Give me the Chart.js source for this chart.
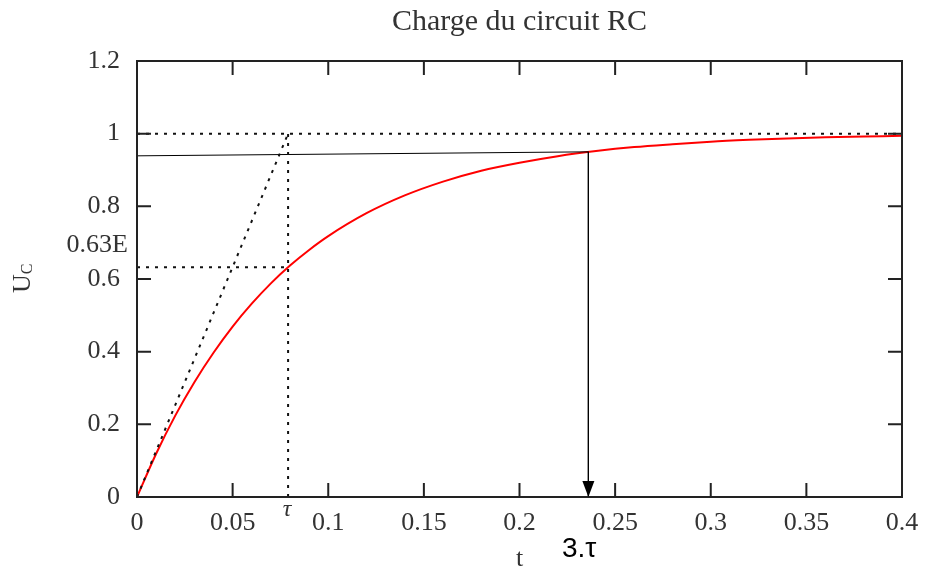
<!DOCTYPE html>
<html lang="fr">
  <head>
    <meta charset="utf-8">
    <script src="https://cdn.jsdelivr.net/npm/chart.js@4.4.1/dist/chart.umd.min.js"></script>
    <style>
      html, body { margin: 0; padding: 0; background: #fff; }
    </style>
  </head>
  <body>
    <canvas id="rcChart" width="927" height="568"></canvas>
    <script>

// values
let timeValues = [0, 0.01, 0.02, 0.03, 0.04, 0.05, 0.06, 0.07, 0.08, 0.09, 0.10,
                  0.12, 0.14, 0.16, 0.18, 0.20, 0.22, 0.24, 0.26, 0.28, 0.30,
                  0.32, 0.34, 0.36, 0.38, 0.40];
let ucValues = [0, 0.119, 0.224, 0.316, 0.397, 0.469, 0.532, 0.588, 0.637, 0.680, 0.718,
                0.781, 0.830, 0.868, 0.898, 0.920, 0.938, 0.952, 0.963, 0.971, 0.978,
                0.983, 0.987, 0.990, 0.992, 0.994];

let xTickLabels = ['0', '0.05', '0.1', '0.15', '0.2', '0.25', '0.3', '0.35', '0.4'];
let yTickLabels = ['0', '0.2', '0.4', '0.6', '0.8', '1', '1.2'];

let tau = 0.079;
let threeTau = 0.236;
let finalValue = 1;
let level63 = 0.632;
let ucAtThreeTau = 0.950;
let readLineStart = 0.939;

const serif = '"Liberation Serif", "DejaVu Serif", serif';

function pts(xs, ys) {
    return xs.map((x, i) => ({ x: x, y: ys[i] }));
}

const dotted = { borderColor: '#111', borderWidth: 2, borderDash: [3, 6], pointRadius: 0, fill: false };

// frame, inward ticks, texts and the arrow head
const gnuplotLook = {
    id: 'gnuplotLook',
    afterDatasetsDraw(chart) {
        const ctx = chart.ctx;
        const a = chart.chartArea;
        const xs = chart.scales.x, ys = chart.scales.y;
        ctx.save();
        ctx.strokeStyle = '#222';
        ctx.lineWidth = 2;
        ctx.strokeRect(a.left, a.top, a.right - a.left, a.bottom - a.top);

        ctx.beginPath();
        xs.ticks.forEach(t => {
            const px = xs.getPixelForValue(t.value);
            ctx.moveTo(px, a.bottom); ctx.lineTo(px, a.bottom - 14);
            ctx.moveTo(px, a.top); ctx.lineTo(px, a.top + 14);
        });
        ys.ticks.forEach(t => {
            const py = ys.getPixelForValue(t.value);
            ctx.moveTo(a.left, py); ctx.lineTo(a.left + 14, py);
            ctx.moveTo(a.right, py); ctx.lineTo(a.right - 14, py);
        });
        ctx.stroke();

        // arrow head at 3 tau
        const ax = xs.getPixelForValue(threeTau);
        const ay = ys.getPixelForValue(0);
        ctx.fillStyle = '#000';
        ctx.beginPath();
        ctx.moveTo(ax, ay);
        ctx.lineTo(ax - 6, ay - 16);
        ctx.lineTo(ax + 6, ay - 16);
        ctx.closePath();
        ctx.fill();

        ctx.fillStyle = '#333';
        ctx.textBaseline = 'middle';
        ctx.textAlign = 'center';
        const cx = (a.left + a.right) / 2;
        ctx.font = '30px ' + serif;
        ctx.fillText('Charge du circuit RC', cx, 22);

        ctx.font = '26px ' + serif;
        ctx.fillText('t', cx, 559);

        ctx.font = 'italic 24px ' + serif;
        ctx.fillText('\u03c4', xs.getPixelForValue(tau) - 1, 510);

        ctx.textAlign = 'right';
        ctx.font = '26px ' + serif;
        ctx.fillText('0.63E', a.left - 9, 245);

        // U_C rotated
        ctx.save();
        ctx.translate(23, (a.top + a.bottom) / 2);
        ctx.rotate(-Math.PI / 2);
        ctx.textAlign = 'left';
        ctx.font = '26px ' + serif;
        ctx.fillText('U', -14, 0);
        const uw = ctx.measureText('U').width;
        ctx.font = '16px ' + serif;
        ctx.fillText('C', -14 + uw, 5);
        ctx.restore();

        ctx.fillStyle = '#000';
        ctx.textAlign = 'left';
        ctx.font = '28px "Liberation Sans", "Noto Sans", sans-serif';
        ctx.fillText('3.\u03c4', 562, 549);
        ctx.restore();
    }
};

let rcChart = new Chart(document.getElementById('rcChart').getContext('2d'), {
    type: 'line',
    data: {
        datasets: [
            Object.assign({ data: pts([0, 0.4], [finalValue, finalValue]) }, dotted),
            Object.assign({ data: pts([tau, tau], [0, finalValue]) }, dotted),
            Object.assign({ data: pts([0, tau], [level63, level63]) }, dotted),
            Object.assign({ data: pts([0, tau], [0, finalValue]) }, dotted),
            {
                data: pts([0, threeTau], [readLineStart, ucAtThreeTau]),
                borderColor: '#000', borderWidth: 1, pointRadius: 0, fill: false
            },
            {
                data: pts([threeTau, threeTau], [ucAtThreeTau, 0]),
                borderColor: '#000', borderWidth: 1, pointRadius: 0, fill: false
            },
            {
                data: pts(timeValues, ucValues),
                borderColor: '#ff0000', borderWidth: 2, pointRadius: 0, fill: false,
                cubicInterpolationMode: 'monotone'
            }
        ]
    },
    options: {
        responsive: false,
        animation: false,
        layout: { padding: { top: 61, right: 25, left: 0, bottom: 0 } },
        plugins: { legend: { display: false }, tooltip: { enabled: false } },
        scales: {
            x: {
                type: 'linear', min: 0, max: 0.4,
                grid: { display: false }, border: { display: false },
                ticks: {
                    stepSize: 0.05, padding: 3, color: '#333',
                    font: { family: serif, size: 26 },
                    maxRotation: 0, autoSkip: false,
                    callback: (v, i) => xTickLabels[i]
                },
                afterFit: s => { s.height = 71; }
            },
            y: {
                type: 'linear', min: 0, max: 1.2,
                grid: { display: false }, border: { display: false },
                ticks: {
                    stepSize: 0.2, padding: 9, color: '#333',
                    font: { family: serif, size: 26 },
                    callback: (v, i) => yTickLabels[i]
                },
                afterFit: s => { s.width = 137; }
            }
        }
    },
    plugins: [gnuplotLook]
});

    </script>
  </body>
</html>
